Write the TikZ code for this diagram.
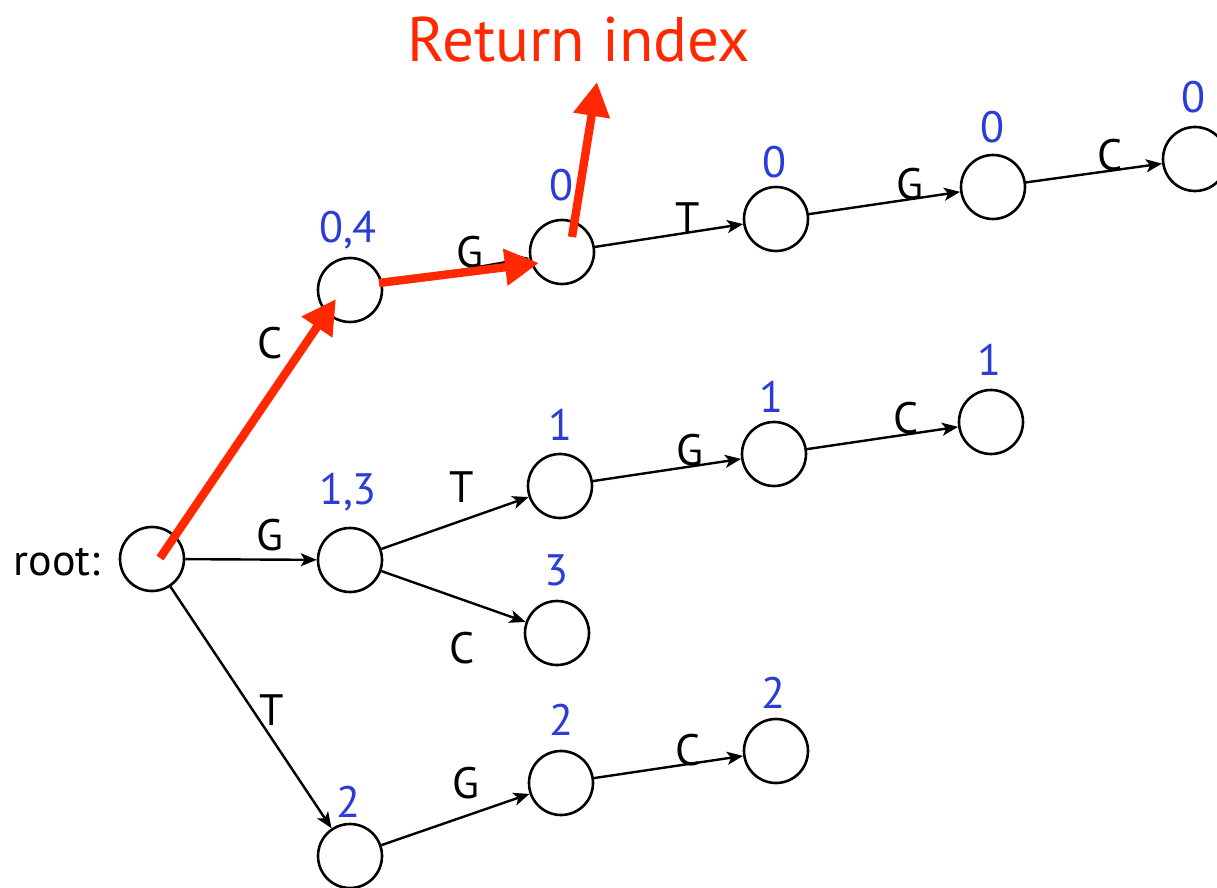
\documentclass[tikz,border=0pt]{standalone}
\usepackage{fontspec}
\setmainfont{PT Sans}
\usetikzlibrary{arrows.meta}
\definecolor{numblue}{RGB}{43,60,216}
\definecolor{hitred}{RGB}{255,40,0}
\tikzset{
  st/.style={circle,draw,line width=1.3pt,minimum size=32pt,inner sep=0pt},
  link/.style={-{Stealth[length=8pt,width=6.5pt,inset=2pt]},line width=1.2pt},
  hit/.style={-{Triangle[length=17pt,width=17.5pt]},line width=4.2pt,hitred},
  num/.style={text=numblue,font=\fontsize{22}{26}\selectfont,inner sep=0pt},
  sym/.style={font=\fontsize{22}{26}\selectfont,inner sep=0pt}
}
\begin{document}
\begin{tikzpicture}[x=0.5pt,y=-0.5pt]
  \useasboundingbox (0,0) rectangle (1217,888);
  \fill[white] (0,0) rectangle (1217,888);
  % trie states
  \node[st] (r) at (152,559) {};
  \node[st] (c) at (350,290) {};
  \node[st] (g) at (350,560) {};
  \node[st] (t) at (350,856) {};
  \node[st] (cg) at (562,252) {};
  \node[st] (cgt) at (776,219) {};
  \node[st] (cgtg) at (993,187) {};
  \node[st] (cgtgc) at (1195,159) {};
  \node[st] (gt) at (560,486) {};
  \node[st] (gtg) at (774,454) {};
  \node[st] (gtgc) at (991,422) {};
  \node[st] (gc) at (557,633) {};
  \node[st] (tg) at (561,783) {};
  \node[st] (tgc) at (776,751) {};
  \node[sym] (rootlab) at (57,562) {root:};
  % indices
  \node[num] (ic) at (348,230) {0,4};
  \node[num] (ig) at (348,492) {1,3};
  \node[num] (it) at (348,802) {2};
  \node[num] (icg) at (561,185) {0};
  \node[num] (icgt) at (774,162) {0};
  \node[num] (icgtg) at (992,127) {0};
  \node[num] (icgtgc) at (1193,97) {0};
  \node[num] (igt) at (560,425) {1};
  \node[num] (igtg) at (771,397) {1};
  \node[num] (igtgc) at (989,360) {1};
  \node[num] (igc) at (556,570) {3};
  \node[num] (itg) at (561,720) {2};
  \node[num] (itgc) at (773,693) {2};
  % edges
  \draw[link] (r) -- (g);
  \draw[link] (r) -- (t);
  \draw[link] (c) -- (cg);
  \draw[link] (cg) -- (cgt);
  \draw[link] (cgt) -- (cgtg);
  \draw[link] (cgtg) -- (cgtgc);
  \draw[link] (g) -- (gt);
  \draw[link] (gt) -- (gtg);
  \draw[link] (gtg) -- (gtgc);
  \draw[link] (g) -- (gc);
  \draw[link] (t) -- (tg);
  \draw[link] (tg) -- (tgc);
  \node[sym] (ec) at (270,343) {C};
  \node[sym] (eg) at (270,535) {G};
  \node[sym] (et) at (272,710) {T};
  \node[sym] (ecg) at (470,252) {G};
  \node[sym] (ecgt) at (688,218) {T};
  \node[sym] (ecgtg) at (910,184) {G};
  \node[sym] (ecgtgc) at (1110,155) {C};
  \node[sym] (egt) at (462,487) {T};
  \node[sym] (egtg) at (690,450) {G};
  \node[sym] (egtgc) at (906,418) {C};
  \node[sym] (egc) at (462,648) {C};
  \node[sym] (etg) at (466,783) {G};
  \node[sym] (etgc) at (688,750) {C};
  % search path
  \coordinate (h0) at (160,558);
  \coordinate (h1) at (336,299);
  \coordinate (h2) at (379,283);
  \coordinate (h3) at (539,263);
  \coordinate (h4) at (572,237);
  \coordinate (h5) at (597,82);
  \draw[hit] (h0) -- (h1);
  \draw[hit] (h2) -- (h3);
  \draw[hit] (h4) -- (h5);
  \node[text=hitred,font=\fontsize{31.5}{36}\selectfont,inner sep=0pt] (ret) at (579,40) {Return index};
\end{tikzpicture}
\end{document}
